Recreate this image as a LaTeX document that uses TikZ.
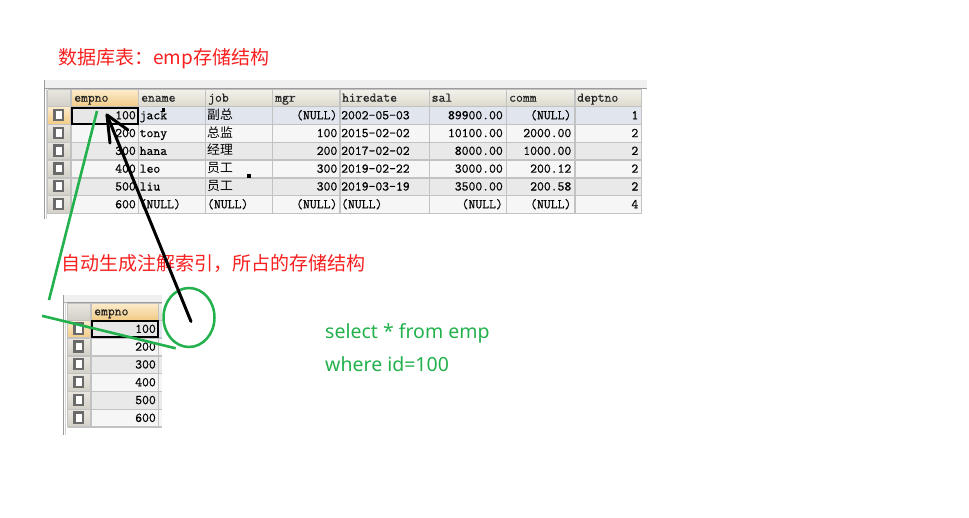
\documentclass[tikz,border=0pt]{standalone}
\usepackage{fontspec}
\usetikzlibrary{arrows.meta,shapes.geometric}
\newfontfamily\monof[FakeBold=0.6]{Latin Modern Mono}
\newfontfamily\cjkf{Noto Sans CJK SC}
\newfontfamily\labf{Noto Sans}
\definecolor{pgreen}{RGB}{34,177,76}
\definecolor{pred}{RGB}{248,32,32}
\definecolor{gridc}{HTML}{C2C2C2}
\definecolor{frameA}{HTML}{9C9C9C}
\definecolor{frameB}{HTML}{D4D4D4}
\definecolor{bandc}{HTML}{F0F0F0}
\definecolor{rowA}{HTML}{E9E9E9}
\definecolor{rowB}{HTML}{F6F6F6}
\definecolor{rowSel}{HTML}{E1E5EE}
\definecolor{cellSel}{HTML}{E7E7E7}
\definecolor{hdTop}{HTML}{F2F1EB}
\definecolor{hdBot}{HTML}{DCD9CD}
\definecolor{hoTop}{HTML}{FCEBCB}
\definecolor{hoBot}{HTML}{F1CB85}
\definecolor{cbTop}{HTML}{E8E6DF}
\definecolor{cbBot}{HTML}{D2D0C6}
\definecolor{cbox}{HTML}{6A6A6A}
\tikzset{
 cellR/.style={anchor=base east, inner sep=0pt, font=\monof\fontsize{13.3}{15}\selectfont, text=black},
 cellL/.style={anchor=base west, inner sep=0pt, font=\monof\fontsize{13.3}{15}\selectfont, text=black},
 hdr/.style={anchor=base west, inner sep=0pt, font=\monof\fontsize{13.3}{15}\selectfont, text=black!85},
 redlab/.style={anchor=base west, inner sep=0pt, font=\cjkf\fontsize{19}{22}\selectfont, text=pred},
 sqltxt/.style={anchor=base west, inner sep=0pt, font=\labf\fontsize{19.5}{23}\selectfont, text=pgreen},
 gline/.style={draw=pgreen, line width=2.6pt},
 blk/.style={draw=black, line width=3pt, line cap=round, line join=round},
 gridl/.style={draw=gridc, line width=1.3pt},
 cbx/.style={draw=cbox, line width=2.3pt, fill=white},
 selbox/.style={draw=black, line width=2pt},
 dotmark/.style={fill=black},
}
\newcommand\zh[1]{{\cjkf\fontsize{12.8}{14}\selectfont #1}}
\newcommand\datarow[9]{%
 \pgfmathsetmacro\rb{101.5+17.8*#1}%
 \node[cellR] (r#1c1) at (136,\rb) {#2};
 \node[cellL] (r#1c2) at (139.5,\rb) {#3};
 \node[cellL] (r#1c3) at (207,\rb) {#4};
 \node[cellR] (r#1c4) at (337.5,\rb) {#5};
 \node[cellL] (r#1c5) at (341,\rb) {#6};
 \node[cellR] (r#1c6) at (503,\rb) {#7};
 \node[cellR] (r#1c7) at (571.5,\rb) {#8};
 \node[cellR] (r#1c8) at (638.5,\rb) {#9};
}
\begin{document}
\begin{tikzpicture}[x=1pt,y=-1pt]
\useasboundingbox[fill=white] (0,0) rectangle (969,517);

% ---------------- table 1 ----------------
\fill[bandc] (44,80) rectangle (647,88.7);
\shade[top color=cbTop,bottom color=cbBot] (47.5,89.7) rectangle (71,106.7);
\shade[top color=hoTop,bottom color=hoBot] (71,89.7) rectangle (138.5,106.7);
\foreach \a/\b in {138.5/205.5,205.5/272.5,272.5/340,340/429.5,429.5/506.5,506.5/575,575/641.5}
  \shade[top color=hdTop,bottom color=hdBot] (\a,89.7) rectangle (\b,106.7);
\foreach \i in {1,...,6}{
  \pgfmathsetmacro\yt{88.9+17.8*\i}
  \ifodd\i \def\rc{rowA}\else\def\rc{rowB}\fi
  \fill[\rc] (71,\yt) rectangle (641.5,\yt+17.8);
  \shade[top color=cbTop,bottom color=cbBot] (47.5,\yt) rectangle (71,\yt+17.8);
}
\fill[rowSel] (138.5,106.7) rectangle (641.5,124.5);
\fill[cellSel] (71,106.7) rectangle (138.5,124.5);
\shade[top color=hoTop,bottom color=hoBot] (47.5,106.7) rectangle (71,124.5);
\foreach \x in {47.5,71,138.5,205.5,272.5,340,429.5,506.5,575,641.5}
  \draw[gridl] (\x,89.7) -- (\x,213.5);
\foreach \i in {0,...,6}
  \draw[gridl] (47.5,106.7+17.8*\i) -- (641.5,106.7+17.8*\i);
\draw[gridl] (47.5,89.7) -- (641.5,89.7);
\draw[frameA, line width=1pt] (44,88.7) -- (647,88.7);
\draw[frameA, line width=1.3pt] (44.3,80) -- (44.3,219);
\draw[frameB, line width=1pt] (46.3,88.7) -- (46.3,219);
\foreach \i in {1,...,6}
  \draw[cbx] (54.4,88.9+17.8*\i+3.3) rectangle (63.2,88.9+17.8*\i+13.4);
\foreach \x/\t/\n in {74/empno/h1,141/ename/h2,208/job/h3,275/mgr/h4,342/hiredate/h5,431.5/sal/h6,509/comm/h7,577/deptno/h8}
  \node[hdr] (\n) at (\x,101.7) {\t};
\datarow{1}{100}{jack}{\zh{副总}}{(NULL)}{2002-05-03}{89900.00}{(NULL)}{1}
\datarow{2}{200}{tony}{\zh{总监}}{100}{2015-02-02}{10100.00}{2000.00}{2}
\datarow{3}{300}{hana}{\zh{经理}}{200}{2017-02-02}{8000.00}{1000.00}{2}
\datarow{4}{400}{leo}{\zh{员工}}{300}{2019-02-22}{3000.00}{200.12}{2}
\datarow{5}{500}{liu}{\zh{员工}}{300}{2019-03-19}{3500.00}{200.58}{2}
\datarow{6}{600}{(NULL)}{(NULL)}{(NULL)}{(NULL)}{(NULL)}{(NULL)}{4}
\draw[selbox] (72,107.7) rectangle (137.5,123.5);
\fill[dotmark] (161.7,108.3) rectangle (164.5,111.5);
\fill[dotmark] (246.8,174.3) rectangle (250.5,177.5);

% ---------------- table 2 ----------------
\begin{scope}[shift={(20,213.6)}]
\fill[bandc] (43.5,81) rectangle (141.5,88.7);
\shade[top color=cbTop,bottom color=cbBot] (47.5,89.7) rectangle (71,106.7);
\shade[top color=hoTop,bottom color=hoBot] (71,89.7) rectangle (138.5,106.7);
\shade[top color=hdTop,bottom color=hdBot] (138.5,89.7) rectangle (141.5,106.7);
\foreach \i in {1,...,6}{
  \pgfmathsetmacro\yt{88.9+17.8*\i}
  \ifodd\i \def\rc{rowA}\else\def\rc{rowB}\fi
  \fill[\rc] (71,\yt) rectangle (141.5,\yt+17.8);
  \shade[top color=cbTop,bottom color=cbBot] (47.5,\yt) rectangle (71,\yt+17.8);
}
\fill[rowSel] (138.5,106.7) rectangle (141.5,124.5);
\fill[cellSel] (71,106.7) rectangle (138.5,124.5);
\shade[top color=hoTop,bottom color=hoBot] (47.5,106.7) rectangle (71,124.5);
\foreach \x in {47.5,71,138.5}
  \draw[gridl] (\x,89.7) -- (\x,213.5);
\foreach \i in {0,...,6}
  \draw[gridl] (47.5,106.7+17.8*\i) -- (141.5,106.7+17.8*\i);
\draw[gridl] (47.5,89.7) -- (141.5,89.7);
\draw[frameA, line width=1pt] (43.5,88.7) -- (141.5,88.7);
\draw[frameA, line width=1.3pt] (43.8,81) -- (43.8,221.4);
\draw[frameB, line width=1pt] (45.8,88.7) -- (45.8,221.4);
\foreach \i in {1,...,6}
  \draw[cbx] (54.4,88.9+17.8*\i+3.3) rectangle (63.2,88.9+17.8*\i+13.4);
\node[hdr] (u-h1) at (74,101.7) {empno};
\foreach \i/\v in {1/100,2/200,3/300,4/400,5/500,6/600}
  \node[cellR] (u-r\i) at (136,101.5+17.8*\i) {\v};
\draw[selbox] (72,107.7) rectangle (137.5,123.5);
\end{scope}

% ---------------- labels ----------------
\node[redlab] (t1) at (58,64.5) {数据库表：emp存储结构};
\node[redlab] (t2) at (61.5,270) {自动生成注解索引，所占的存储结构};
\node[sqltxt] (q1) at (325,338.3) {select * from emp};
\node[sqltxt] (q2) at (325,371.7) {where id=100};

% ---------------- annotations ----------------
\coordinate (g1a) at (97,111);
\coordinate (g1b) at (49,300);
\coordinate (g2a) at (42,315.8);
\coordinate (g2b) at (175.7,348.3);
\draw[gline] (g1a) -- (g1b);
\draw[gline] (g2a) -- (g2b);
\node[draw=pgreen, line width=2.5pt, ellipse, inner sep=0pt, minimum width=51pt, minimum height=59pt] (circ) at (189,317.5) {};
\coordinate (atail) at (191,321.5);
\coordinate (atip) at (107,115);
\coordinate (ab1) at (110,143);
\coordinate (ab2) at (128,130);
\draw[blk] (atail) -- (atip);
\draw[blk] (ab1) -- (atip) -- (ab2);
\end{tikzpicture}
\end{document}
